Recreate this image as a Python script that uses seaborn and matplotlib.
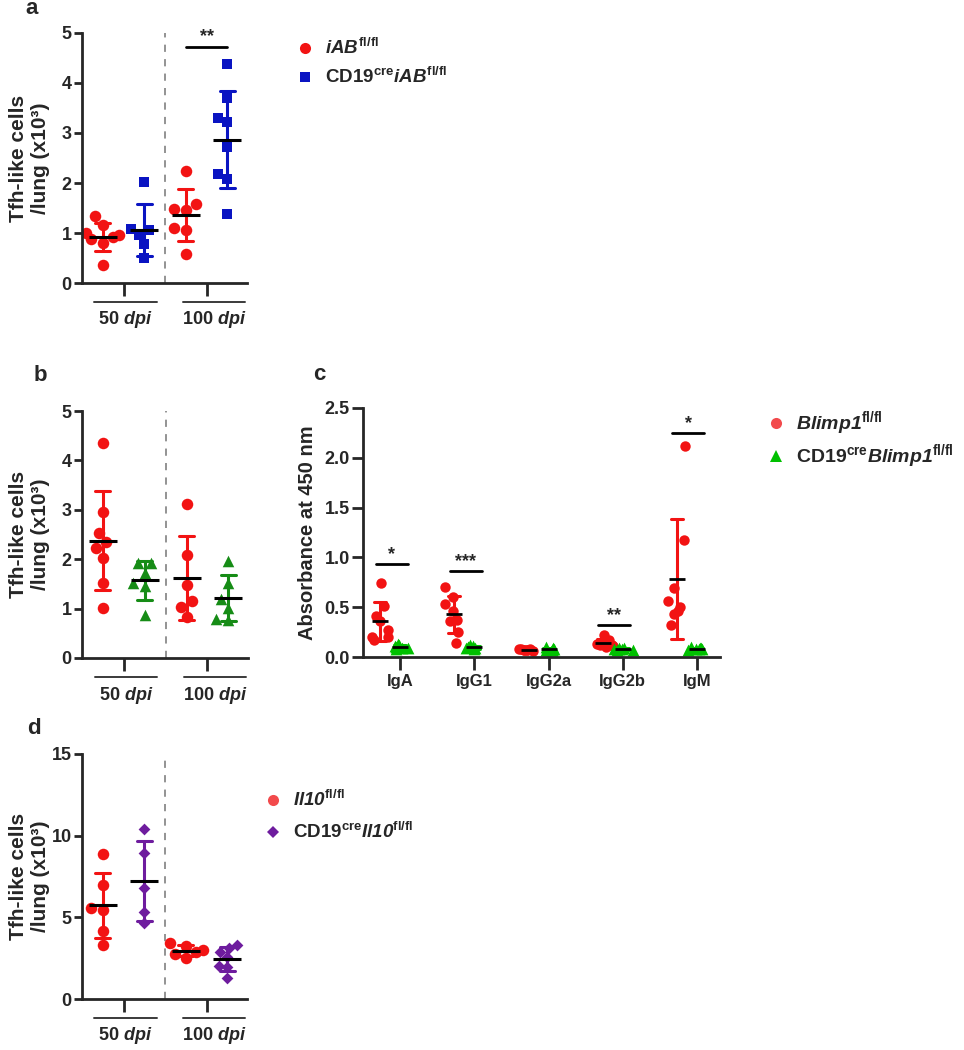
import numpy as np
import pandas as pd
import seaborn as sns
import matplotlib.pyplot as plt
from matplotlib.lines import Line2D

sns.set_style("ticks")
plt.rcParams["font.family"] = ["Liberation Sans", "DejaVu Sans"]
plt.rcParams["font.weight"] = "bold"
plt.rcParams["axes.labelweight"] = "bold"
plt.rcParams["mathtext.fontset"] = "custom"
# math "rm" is bold italic so that digits inside gene names stay italic
plt.rcParams["mathtext.rm"] = "Liberation Sans:bold:italic"
plt.rcParams["mathtext.it"] = "Liberation Sans:bold:italic"
plt.rcParams["mathtext.bf"] = "Liberation Sans:bold"
plt.rcParams["axes.linewidth"] = 2.0

# ---- data ----
days = ["50", "100"]

# a: iAB fl/fl vs CD19cre iAB fl/fl
a_ctrl_50 = [1.33, 1.15, 1.0, 0.95, 0.92, 0.88, 0.8, 0.37]
a_ko_50 = [2.02, 1.05, 1.08, 0.95, 0.77, 0.5]
a_ctrl_100 = [2.24, 1.58, 1.48, 1.45, 1.1, 1.05, 0.58]
a_ko_100 = [4.38, 3.7, 3.3, 3.22, 2.72, 2.18, 2.07, 1.38]

# b: Blimp1 fl/fl vs CD19cre Blimp1 fl/fl
b_ctrl_50 = [4.36, 2.96, 2.53, 2.34, 2.22, 2.03, 1.52, 1.02]
b_ko_50 = [1.92, 1.93, 1.72, 1.52, 1.45, 0.88]
b_ctrl_100 = [3.11, 2.09, 1.48, 1.15, 1.04, 0.83]
b_ko_100 = [1.97, 1.52, 1.19, 1.01, 0.77, 0.78]

# c: absorbance per isotype
isotypes = ["IgA", "IgG1", "IgG2a", "IgG2b", "IgM"]
c_ctrl = [
    [0.74, 0.51, 0.41, 0.36, 0.27, 0.2, 0.2, 0.17],
    [0.70, 0.60, 0.535, 0.46, 0.37, 0.36, 0.25, 0.14],
    [0.08, 0.08, 0.07, 0.07, 0.07, 0.06, 0.07, 0.08],
    [0.22, 0.17, 0.14, 0.13, 0.12, 0.12, 0.11, 0.1],
    [2.12, 1.17, 0.69, 0.56, 0.50, 0.46, 0.43, 0.32],
]
c_ko = [
    [0.13, 0.12, 0.11, 0.1, 0.1, 0.09, 0.09, 0.08],
    [0.12, 0.11, 0.1, 0.1, 0.09, 0.09, 0.08],
    [0.1, 0.09, 0.08, 0.08, 0.07, 0.07, 0.07],
    [0.09, 0.09, 0.08, 0.08, 0.08, 0.07, 0.07],
    [0.1, 0.09, 0.09, 0.08, 0.08, 0.08, 0.07],
]
c_sig_text = ["*", "***", "", "**", "*"]
c_sig_y = [0.93, 0.86, np.nan, 0.32, 2.25]

# d: Il10 fl/fl vs CD19cre Il10 fl/fl
d_ctrl_50 = [8.88, 7.0, 5.57, 5.47, 4.14, 3.31]
d_ko_50 = [10.4, 8.94, 6.8, 5.3, 4.65]
d_ctrl_100 = [3.4, 3.25, 3.0, 2.85, 2.75, 2.5]
d_ko_100 = [3.3, 3.1, 2.85, 2.6, 2.05, 1.95, 1.3]

RED = "#F21313"
RED_LEG = "#F24A4C"
BLUE = "#0A14C2"
GREEN_B = "#168C16"
GREEN_C = "#00C000"
PURPLE = "#6E1C9E"

W, H = 964, 1050
fig = plt.figure(figsize=(W / 100, H / 100), dpi=100)


def px_axes(left, top, right, bottom):
    return fig.add_axes([left / W, 1 - bottom / H, (right - left) / W, (bottom - top) / H])


def long_df(c50, k50, c100, k100):
    rows = []
    for day, ctrl, ko in [(days[0], c50, k50), (days[1], c100, k100)]:
        rows += [(f"{day} ctrl", "ctrl", v) for v in ctrl]
        rows += [(f"{day} ko", "ko", v) for v in ko]
    return pd.DataFrame(rows, columns=["group", "geno", "value"])


def style_axis(ax):
    ax.tick_params(axis="y", length=6, width=2, labelsize=13, pad=1.5)
    ax.tick_params(axis="x", length=9, width=2, labelsize=12, pad=3)
    sns.despine(ax=ax)


def time_panel(ax, df, ko_color, ko_marker, ko_size, ymax, ystep, under_y, label_y):
    order = [f"{d} {g}" for d in days for g in ["ctrl", "ko"]]
    ax.axvline(1.5, color="#8a8a8a", lw=1.3, ls=(0, (4, 4)), zorder=0)
    for geno, col, mk, sz in [("ctrl", RED, "o", 8.3), ("ko", ko_color, ko_marker, ko_size)]:
        sub = df[df.geno == geno]
        sns.swarmplot(data=sub, x="group", y="value", order=order, color=col,
                      marker=mk, size=sz, linewidth=0, ax=ax, zorder=2)
        sns.pointplot(data=sub, x="group", y="value", order=order, color=col,
                      errorbar="sd", capsize=0.36, marker="", linestyle="none",
                      err_kws={"linewidth": 2.2}, ax=ax, zorder=3)
    sns.pointplot(data=df, x="group", y="value", order=order, color="black",
                  errorbar=None, marker="_", markersize=20, markeredgewidth=2.2,
                  linestyle="none", ax=ax, zorder=4)
    ax.set_xlim(-0.5, 3.47)
    ax.set_ylim(0, ymax)
    ax.set_yticks(np.arange(0, ymax + 0.01, ystep))
    ax.set_xticks([0.5, 2.5])
    ax.set_xticklabels([])
    ax.set_xlabel("")
    ax.set_ylabel("Tfh-like cells\n/lung (x10³)", fontsize=15, fontweight="bold")
    ax.yaxis.set_label_coords(-0.195, 0.5)
    style_axis(ax)
    tr = ax.get_xaxis_transform()
    for center, day in zip([0.55, 2.68], days):
        ax.plot([center - 0.75, center + 0.75], [under_y, under_y], transform=tr,
                color="#3a3a3a", lw=1.4, clip_on=False)
        ax.text(center, label_y, f"{day} $\\mathit{{dpi}}$", transform=tr,
                ha="center", va="center", fontsize=13)


def legend_block(x, y0, dy, entries, fs):
    for i, (mk, col, ms, label) in enumerate(entries):
        y = y0 + i * dy
        fig.add_artist(Line2D([x / W], [1 - y / H], marker=mk, color=col, ms=ms,
                              mew=0, ls="none", transform=fig.transFigure))
        fig.text((x + 20) / W, 1 - y / H, label, fontsize=fs, va="center", ha="left")


# ---- panel a ----
ax_a = px_axes(82, 33, 247, 283)
df_a = long_df(a_ctrl_50, a_ko_50, a_ctrl_100, a_ko_100)
time_panel(ax_a, df_a, BLUE, "s", 7.4, 5, 1, -0.076, -0.148)
ax_a.plot([2, 3], [4.72, 4.72], color="black", lw=2)
ax_a.text(2.5, 4.76, "**", ha="center", va="bottom", fontsize=13)
legend_block(305, 48, 29, [("o", RED, 8, r"$\mathit{iAB}^{\mathbf{fl/fl}}$"),
                           ("s", BLUE, 7, r"CD19$^{\mathbf{cre}}\mathit{iAB}^{\mathbf{fl/fl}}$")], 13.5)

# ---- panel b ----
ax_b = px_axes(82, 411, 248, 658)
df_b = long_df(b_ctrl_50, b_ko_50, b_ctrl_100, b_ko_100)
time_panel(ax_b, df_b, GREEN_B, "^", 8.3, 5, 1, -0.077, -0.15)

# ---- panel c ----
ax_c = px_axes(363, 408, 720, 657)
rows = []
for i, iso in enumerate(isotypes):
    rows += [(i - 0.27, "ctrl", v) for v in c_ctrl[i]]
    rows += [(i + 0.0, "ko", v) for v in c_ko[i]]
df_c = pd.DataFrame(rows, columns=["pos", "geno", "value"])
np.random.seed(3)
for geno, col, mk, sz in [("ctrl", RED, "o", 7.5), ("ko", GREEN_C, "^", 8.5)]:
    sub = df_c[df_c.geno == geno]
    sns.stripplot(data=sub, x="pos", y="value", native_scale=True, orient="x",
                  jitter=0.14, color=col, marker=mk, size=sz, linewidth=0,
                  ax=ax_c, zorder=2)
    sns.pointplot(data=sub, x="pos", y="value", native_scale=True, orient="x",
                  color=col, errorbar="sd", capsize=0.16, marker="", linestyle="none",
                  err_kws={"linewidth": 2.2}, ax=ax_c, zorder=3)
    sns.pointplot(data=sub, x="pos", y="value", native_scale=True, orient="x",
                  color="black", errorbar=None, marker="_", markersize=12,
                  markeredgewidth=2, linestyle="none", ax=ax_c, zorder=4)
for i, (txt, yv) in enumerate(zip(c_sig_text, c_sig_y)):
    if txt:
        ax_c.plot([i - 0.33, i + 0.1], [yv, yv], color="black", lw=2, clip_on=False)
        ax_c.text(i - 0.115, yv + 0.01, txt, ha="center", va="bottom", fontsize=13)
ax_c.set_xlim(-0.5, 4.31)
ax_c.set_ylim(0, 2.5)
ax_c.set_yticks(np.arange(0, 2.51, 0.5))
ax_c.set_yticklabels([f"{v:.1f}" for v in np.arange(0, 2.51, 0.5)])
ax_c.set_xticks(range(len(isotypes)))
ax_c.set_xticklabels(isotypes)
ax_c.set_xlabel("")
ax_c.set_ylabel("Absorbance at 450 nm", fontsize=14.5, fontweight="bold")
ax_c.yaxis.set_label_coords(-0.129, 0.5)
style_axis(ax_c)
ax_c.tick_params(axis="y", length=8)
legend_block(776, 423, 33, [("o", RED_LEG, 8, r"$\mathit{Blimp1}^{\mathbf{fl/fl}}$"),
                            ("^", GREEN_C, 8, r"CD19$^{\mathbf{cre}}\mathit{Blimp1}^{\mathbf{fl/fl}}$")], 14)

# ---- panel d ----
ax_d = px_axes(82, 754, 247, 999)
df_d = long_df(d_ctrl_50, d_ko_50, d_ctrl_100, d_ko_100)
time_panel(ax_d, df_d, PURPLE, "D", 6, 15, 5, -0.078, -0.147)
legend_block(273, 800, 32, [("o", RED_LEG, 8, r"$\mathit{Il10}^{\mathbf{fl/fl}}$"),
                            ("D", PURPLE, 6, r"CD19$^{\mathbf{cre}}\mathit{Il10}^{\mathbf{fl/fl}}$")], 13.5)

# panel letters
for letter, x, y in [("a", 32, 9), ("b", 40, 375), ("c", 319, 374), ("d", 34, 729)]:
    fig.text(x / W, 1 - y / H, letter, fontsize=16, ha="center", va="center")

fig.savefig("out.png", dpi=100)
